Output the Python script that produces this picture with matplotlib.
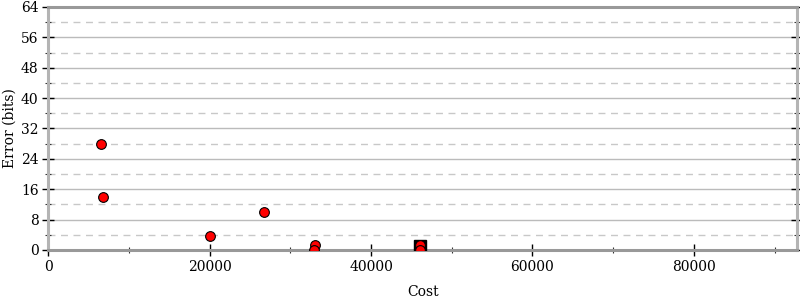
import matplotlib
matplotlib.use("Agg")
import matplotlib.pyplot as plt
from matplotlib.ticker import MultipleLocator

# data
cost_pts = [6500, 6800, 20060, 26790, 33000, 32900, 46100, 46100]
err_pts = [27.9, 14.0, 3.75, 10.1, 1.2, 0.0, 1.2, 0.0]
best_cost = [46100]
best_err = [1.0]
x_max = 92800
y_max = 64

plt.rcParams['font.family'] = ['DejaVu Serif']
fig = plt.figure(figsize=(8, 3), dpi=100)
ax = fig.add_axes([0.0604, 0.1667, 0.936, 0.81])

ax.plot(best_cost, best_err, linestyle='none', marker='s', markersize=8.6,
        color='black', zorder=3)
ax.plot(cost_pts, err_pts, linestyle='none', marker='o', markersize=7,
        markerfacecolor='#ff0000', markeredgecolor='black', markeredgewidth=0.8,
        zorder=4)

ax.set_xlim(0, x_max)
ax.set_ylim(0, y_max)
ax.xaxis.set_major_locator(MultipleLocator(20000))
ax.xaxis.set_minor_locator(MultipleLocator(10000))
ax.yaxis.set_major_locator(MultipleLocator(8))
ax.yaxis.set_minor_locator(MultipleLocator(4))

ax.grid(which='major', axis='y', color='#bbbbbb', linewidth=1, linestyle='-')
ax.grid(which='minor', axis='y', color='#c8c8c8', linewidth=1, linestyle=(0, (5, 4)))
ax.set_axisbelow(True)

for name, s in ax.spines.items():
    s.set_color('#999999' if name in ('bottom', 'top') else '#b4b4b4')
    s.set_linewidth(2.2)

ax.tick_params(axis='both', which='major', direction='inout', length=8, width=1,
               color='black', labelsize=10, pad=3)
ax.tick_params(axis='both', which='minor', direction='inout', length=5, width=0.8,
               color='#333333')
ax.tick_params(axis='y', which='both', right=True)
ax.tick_params(axis='x', which='both', top=False)

ax.set_xlabel('Cost', fontsize=10, labelpad=8)
ax.set_ylabel('Error (bits)', fontsize=10, labelpad=3)

fig.savefig('out.png', dpi=100)
